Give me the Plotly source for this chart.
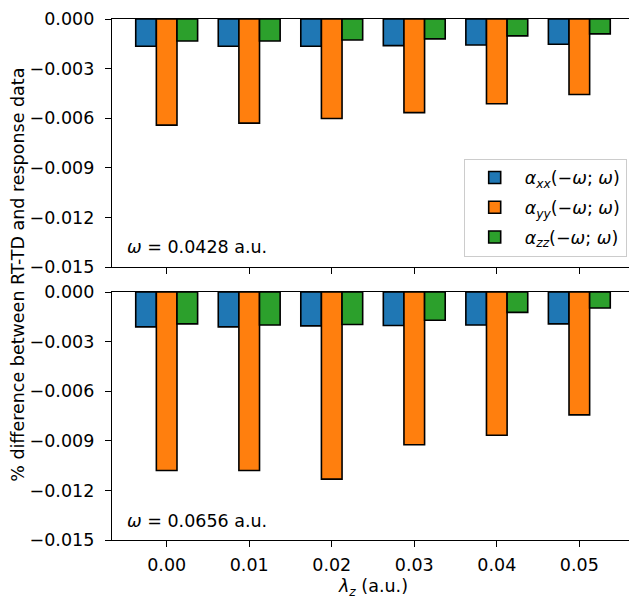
import plotly.graph_objects as go

lambda_z = [0.00, 0.01, 0.02, 0.03, 0.04, 0.05]
tick_labels = ["0.00", "0.01", "0.02", "0.03", "0.04", "0.05"]

# omega = 0.0428 a.u.
top_xx = [-0.00165, -0.00165, -0.00165, -0.00161, -0.00157, -0.00153]
top_yy = [-0.00642, -0.00630, -0.00602, -0.00566, -0.00513, -0.00457]
top_zz = [-0.00133, -0.00133, -0.00127, -0.00120, -0.00102, -0.00090]

# omega = 0.0656 a.u.
bot_xx = [-0.00211, -0.00211, -0.00205, -0.00203, -0.00200, -0.00193]
bot_yy = [-0.01080, -0.01080, -0.01132, -0.00924, -0.00866, -0.00743]
bot_zz = [-0.00193, -0.00200, -0.00197, -0.00171, -0.00123, -0.00097]

names = [
    "<i>α</i><sub><i>xx</i></sub>(−<i>ω</i>; <i>ω</i>)",
    "<i>α</i><sub><i>yy</i></sub>(−<i>ω</i>; <i>ω</i>)",
    "<i>α</i><sub><i>zz</i></sub>(−<i>ω</i>; <i>ω</i>)",
]
colors = ["#1f77b4", "#ff7f0e", "#2ca02c"]
omega_labels = ["<i>ω</i> = 0.0428 a.u.", "<i>ω</i> = 0.0656 a.u."]

FONT = "DejaVu Sans"
FS = 17.5

fig = go.Figure()
for i, (vals, name, col) in enumerate(zip([top_xx, top_yy, top_zz], names, colors)):
    fig.add_trace(go.Bar(x=lambda_z, y=vals, name=name, marker_color=col,
                         marker_line_color="black", marker_line_width=1.6,
                         xaxis="x", yaxis="y", legendgroup=str(i), showlegend=True))
for i, (vals, name, col) in enumerate(zip([bot_xx, bot_yy, bot_zz], names, colors)):
    fig.add_trace(go.Bar(x=lambda_z, y=vals, name=name, marker_color=col,
                         marker_line_color="black", marker_line_width=1.6,
                         xaxis="x2", yaxis="y2", legendgroup=str(i), showlegend=False))

axis_common = dict(showline=True, linecolor="black", linewidth=1.4, mirror=True,
                   ticks="outside", ticklen=6, tickwidth=1.4, tickcolor="black",
                   showgrid=False, zeroline=False, automargin=False,
                   tickfont=dict(family=FONT, size=FS, color="black"))

# The page body has an 8px margin, so the figure is sized/offset to compensate.
xr = [-0.006625, 0.056625]
fig.update_layout(
    width=629, height=590,
    margin=dict(l=104, r=3, t=11, b=58),
    plot_bgcolor="white", paper_bgcolor="white",
    font=dict(family=FONT, size=FS, color="black"),
    barmode="group", bargap=0.25, bargroupgap=0,
    xaxis=dict(domain=[0, 1], anchor="y", range=xr, tickvals=lambda_z,
               showticklabels=False, **axis_common),
    yaxis=dict(domain=[0.524, 1], anchor="x", range=[-0.015, 0], dtick=0.003,
               tickformat=".3f", ticklabelstandoff=7, **axis_common),
    xaxis2=dict(domain=[0, 1], anchor="y2", range=xr, tickvals=lambda_z,
                ticktext=tick_labels, ticklabelstandoff=3, **axis_common),
    yaxis2=dict(domain=[0, 0.476], anchor="x2", range=[-0.015, 0], dtick=0.003,
                tickformat=".3f", ticklabelstandoff=7, **axis_common),
    legend=dict(x=0.986, y=0.544, xanchor="right", yanchor="bottom",
                bgcolor="rgba(255,255,255,0.8)", bordercolor="#cccccc", borderwidth=1,
                font=dict(family=FONT, size=FS), tracegroupgap=4, itemwidth=50),
    showlegend=True,
)

fig.add_annotation(text=omega_labels[0], xref="x domain", yref="y domain",
                   x=0.024, y=0.082, xanchor="left", yanchor="middle",
                   showarrow=False, font=dict(family=FONT, size=FS))
fig.add_annotation(text=omega_labels[1], xref="x2 domain", yref="y2 domain",
                   x=0.024, y=0.078, xanchor="left", yanchor="middle",
                   showarrow=False, font=dict(family=FONT, size=FS))
fig.add_annotation(text="<i>λ</i><sub><i>z</i></sub> (a.u.)",
                   xref="x2 domain", yref="paper", x=0.5, y=0, yshift=-47,
                   xanchor="center", yanchor="middle",
                   showarrow=False, font=dict(family=FONT, size=FS))
fig.add_annotation(text="% difference between RT-TD and response data",
                   xref="paper", yref="paper", x=0, xshift=-94, y=0.509,
                   xanchor="center", yanchor="middle", textangle=-90,
                   showarrow=False, font=dict(family=FONT, size=FS))

fig.write_html("out.html")
